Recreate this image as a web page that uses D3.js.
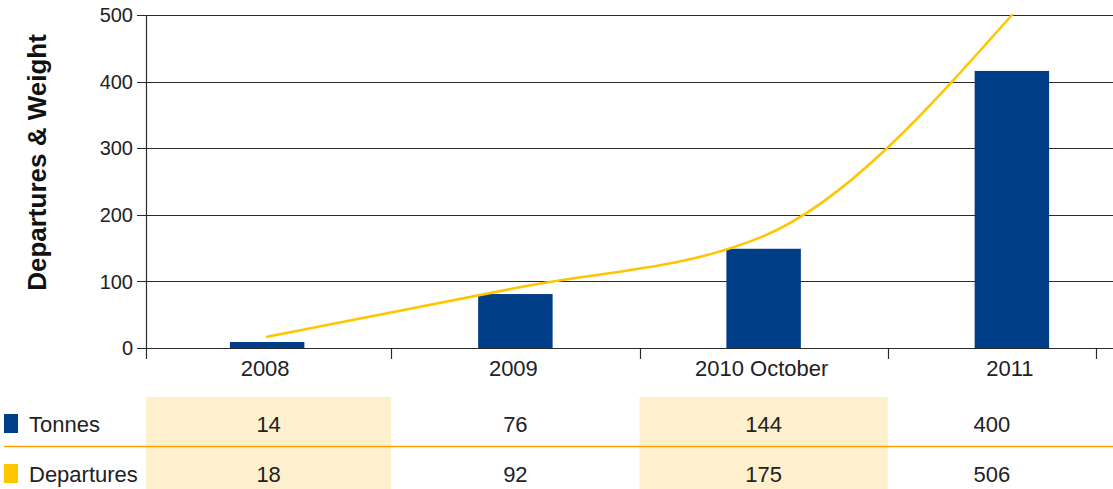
<!DOCTYPE html>
<html>
<head>
<meta charset="utf-8">
<script src="https://cdn.jsdelivr.net/npm/d3@7/dist/d3.min.js"></script>
<style>
  html, body { margin: 0; padding: 0; background: #fff; }
  svg { display: block; font-family: "Liberation Sans", Arial, Helvetica, sans-serif; }
</style>
</head>
<body>
<svg id="chart" width="1113" height="489"></svg>
<script>
// ---- data ----
const categories = ["2008", "2009", "2010 October", "2011"];
const tonnes = [14, 76, 144, 400];          // table values
const departures = [18, 92, 175, 506];      // table values
const tonnesBars = [9, 81, 149, 416];       // bar heights as drawn in the picture
const departuresLine = [17, 90, 168, 500];  // line heights as drawn in the picture
const yTicks = [0, 100, 200, 300, 400, 500];
const seriesNames = ["Tonnes", "Departures"];
const highlightCols = [0, 2];

// ---- layout ----
const W = 1113, H = 489;
const plotTop = 15, plotBottom = 348, axisLeft = 146, tableRight = 1096;
const colors = { bar: "#003f87", line: "#ffc600", grid: "#2a2a2a", text: "#222", hl: "#fef0cc", sep: "#ffa000" };

const svg = d3.select("#chart");

const x = d3.scaleBand().domain(categories).range([143, 1136]).padding(0);
const y = d3.scaleLinear().domain([0, 500]).range([plotBottom, plotTop]);

// gridlines
svg.append("g").selectAll("line").data(yTicks).join("line")
  .attr("x1", axisLeft - 9).attr("x2", W)
  .attr("y1", d => Math.round(y(d)) + 0.5).attr("y2", d => Math.round(y(d)) + 0.5)
  .attr("stroke", colors.grid).attr("stroke-width", 1.1);

// y tick labels
svg.append("g").selectAll("text").data(yTicks).join("text")
  .attr("x", axisLeft - 13).attr("y", d => y(d))
  .attr("dy", "0.36em").attr("text-anchor", "end")
  .attr("font-size", 20).attr("fill", colors.text)
  .text(d => d);

// y axis line
svg.append("line")
  .attr("x1", axisLeft + 0.5).attr("x2", axisLeft + 0.5)
  .attr("y1", plotTop).attr("y2", plotBottom + 11)
  .attr("stroke", colors.grid).attr("stroke-width", 1.2);

// x ticks (category boundaries + table edge)
const tickXs = categories.slice(1).map(c => x(c)).concat([tableRight]);
svg.append("g").selectAll("line").data(tickXs).join("line")
  .attr("x1", d => Math.round(d) + 0.5).attr("x2", d => Math.round(d) + 0.5)
  .attr("y1", plotBottom).attr("y2", plotBottom + 11)
  .attr("stroke", colors.grid).attr("stroke-width", 1.2);

// y title
svg.append("text")
  .attr("transform", `translate(46, ${(32 + 293) / 2}) rotate(-90)`)
  .attr("text-anchor", "middle")
  .attr("font-size", 26).attr("font-weight", "bold").attr("fill", "#111")
  .text("Departures & Weight");

// bars
const bw = x.bandwidth() * 0.3;
svg.append("g").selectAll("rect").data(categories).join("rect")
  .attr("x", d => x(d) + x.bandwidth() / 2 - bw / 2)
  .attr("width", bw)
  .attr("y", (d, i) => y(tonnesBars[i]))
  .attr("height", (d, i) => y(0) - y(tonnesBars[i]))
  .attr("fill", colors.bar);

// line (clipped to plot area)
svg.append("clipPath").attr("id", "clip")
  .append("rect").attr("x", axisLeft).attr("y", plotTop - 1)
  .attr("width", W - axisLeft).attr("height", plotBottom - plotTop + 1);

const line = d3.line()
  .x((d, i) => x(categories[i]) + x.bandwidth() / 2)
  .y(d => y(d))
  .curve(d3.curveMonotoneX);

svg.append("path").datum(departuresLine)
  .attr("clip-path", "url(#clip)")
  .attr("d", line)
  .attr("fill", "none").attr("stroke", colors.line).attr("stroke-width", 2.6)
  .attr("stroke-linecap", "round");

// x axis line
svg.append("line")
  .attr("x1", axisLeft).attr("x2", W)
  .attr("y1", plotBottom + 0.5).attr("y2", plotBottom + 0.5)
  .attr("stroke", colors.grid).attr("stroke-width", 1.2);

// x labels
svg.append("g").selectAll("text").data(categories).join("text")
  .attr("x", d => x(d) + x.bandwidth() / 2 - 2)
  .attr("y", 376)
  .attr("text-anchor", "middle")
  .attr("font-size", 22).attr("fill", colors.text)
  .text(d => d);

// ---- table ----
const colEdges = [axisLeft].concat(tickXs);
const cols = categories.map((c, i) => ({ c, x0: colEdges[i], x1: colEdges[i + 1] }));
const tableTop = 397, sepY = 446.5;
const rowCenters = [424, 474];

svg.append("g").selectAll("rect").data(highlightCols).join("rect")
  .attr("x", i => cols[i].x0).attr("width", i => cols[i].x1 - cols[i].x0)
  .attr("y", tableTop).attr("height", H - tableTop)
  .attr("fill", colors.hl);

svg.append("line")
  .attr("x1", 4).attr("x2", W).attr("y1", sepY).attr("y2", sepY)
  .attr("stroke", colors.sep).attr("stroke-width", 1.5);

const rows = [
  { name: seriesNames[0], values: tonnes, color: colors.bar },
  { name: seriesNames[1], values: departures, color: colors.line }
];

rows.forEach((r, ri) => {
  const cy = rowCenters[ri];
  svg.append("rect").attr("x", 4).attr("y", cy - 10).attr("width", 14).attr("height", 19)
    .attr("fill", r.color);
  svg.append("text").attr("x", 29).attr("y", cy).attr("dy", "0.36em")
    .attr("font-size", 22).attr("fill", colors.text).text(r.name);
  svg.append("g").selectAll("text").data(r.values).join("text")
    .attr("x", (d, i) => (cols[i].x0 + cols[i].x1) / 2)
    .attr("y", cy).attr("dy", "0.36em")
    .attr("text-anchor", "middle")
    .attr("font-size", 22).attr("fill", colors.text)
    .text(d => d);
});
</script>
</body>
</html>
